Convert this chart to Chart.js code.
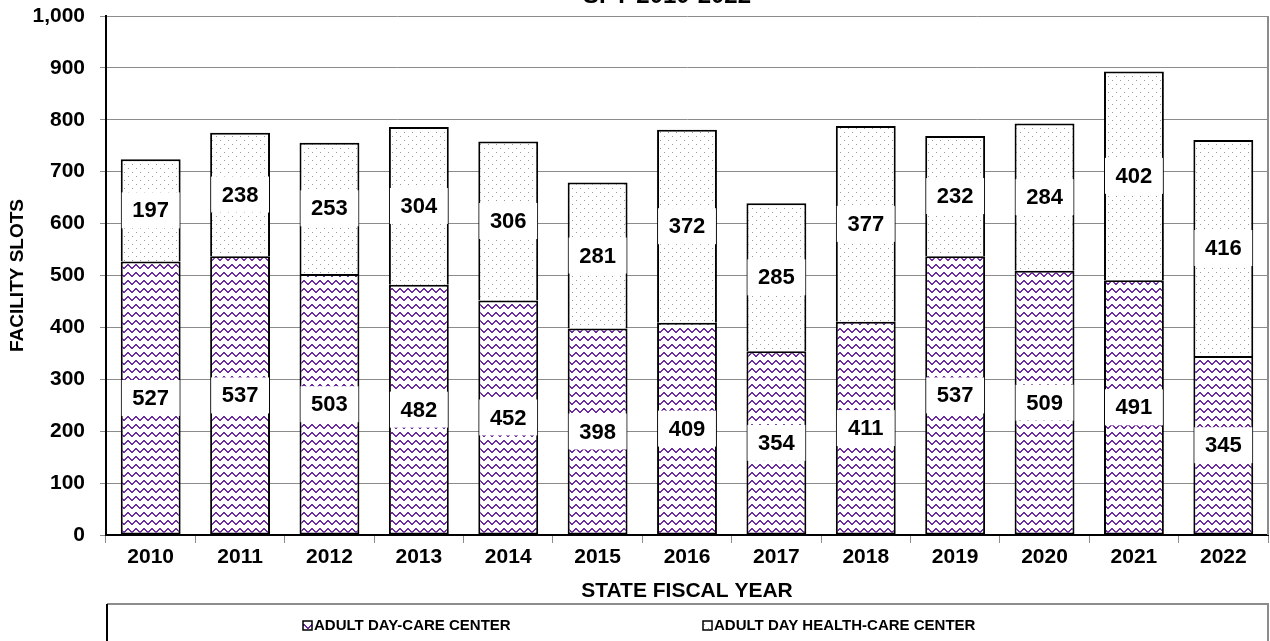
<!DOCTYPE html>
<html>
<head>
<meta charset="utf-8">
<title>Facility slots by state fiscal year</title>
<script src="https://cdn.jsdelivr.net/npm/chart.js@4.4.1/dist/chart.umd.min.js"></script>
<style>
  body { margin: 0; background: #fff; }
  #wrap { width: 1270px; height: 641px; }
</style>
</head>
<body>
<div id="wrap"><canvas id="slotsChart" width="1270" height="641"></canvas></div>
<script>
// slots per fiscal year
const years = ['2010', '2011', '2012', '2013', '2014', '2015', '2016', '2017', '2018', '2019', '2020', '2021', '2022'];
const dayCareSlots = [527, 537, 503, 482, 452, 398, 409, 354, 411, 537, 509, 491, 345];
const dayHealthSlots = [197, 238, 253, 304, 306, 281, 372, 285, 377, 232, 284, 402, 416];
const seriesNames = ['ADULT DAY-CARE CENTER', 'ADULT DAY HEALTH-CARE CENTER'];
const yMax = 1000;
const yStep = 100;
const titleText = 'SFY 2010-2022';

const FONT = "'Liberation Sans', Arial, Helvetica, sans-serif";
Chart.defaults.font.family = FONT;
Chart.defaults.color = '#000';

// 8x8 tiles, like the old excel fill patterns
function makePattern(bg, fg, pixels) {
  const c = document.createElement('canvas');
  c.width = 8; c.height = 8;
  const g = c.getContext('2d');
  g.fillStyle = bg;
  g.fillRect(0, 0, 8, 8);
  g.fillStyle = fg;
  pixels.forEach(p => g.fillRect(p[0], p[1], 1, 1));
  return g.createPattern(c, 'repeat');
}

// zigzag line two pixels thick, one wave per tile
const zigPixels = [];
for (let x = 0; x < 8; x++) {
  const y = x < 4 ? x : 7 - x;
  zigPixels.push([x, y], [x, y + 1]);
}
const zigzag = makePattern('#fff', '#6e2da0', zigPixels);
const dots = makePattern('#fff', '#9a9a9a', [[0, 0], [4, 4]]);

// value labels sit on a white band across the bar
const barLabels = {
  id: 'barLabels',
  afterDatasetsDraw(chart) {
    const ctx = chart.ctx;
    ctx.save();
    ctx.font = 'bold 22px ' + FONT;
    ctx.textAlign = 'center';
    ctx.textBaseline = 'middle';
    chart.data.datasets.forEach((ds, i) => {
      chart.getDatasetMeta(i).data.forEach((bar, j) => {
        const p = bar.getProps(['x', 'y', 'base', 'width'], true);
        const cy = (p.y + p.base) / 2;
        ctx.fillStyle = '#fff';
        ctx.fillRect(p.x - p.width / 2 + 1, cy - 18, p.width - 2, 36);
        ctx.fillStyle = '#000';
        ctx.fillText(ds.data[j], p.x, cy + 1);
      });
    });
    ctx.restore();
  }
};

// right edge of the plot frame
const plotFrame = {
  id: 'plotFrame',
  beforeDatasetsDraw(chart) {
    const a = chart.chartArea, ctx = chart.ctx;
    ctx.save();
    ctx.strokeStyle = '#8c8c8c';
    ctx.lineWidth = 2;
    ctx.beginPath();
    ctx.moveTo(a.right, a.top);
    ctx.lineTo(a.right, a.bottom);
    ctx.stroke();
    ctx.restore();
  }
};

// legend box under the axis title, plus the heading line
const legendBox = {
  id: 'legendBox',
  afterDraw(chart) {
    const ctx = chart.ctx;
    const a = chart.chartArea;
    const top = 604;
    ctx.save();
    ctx.lineWidth = 2;
    ctx.strokeStyle = '#8c8c8c';
    ctx.beginPath();
    ctx.moveTo(a.left + 1, top);
    ctx.lineTo(a.right, top);
    ctx.lineTo(a.right, chart.height);
    ctx.stroke();
    ctx.strokeStyle = '#000';
    ctx.beginPath();
    ctx.moveTo(a.left + 1, top);
    ctx.lineTo(a.left + 1, chart.height);
    ctx.stroke();

    const fills = [zigzag, dots];
    const xs = [303, 703];
    ctx.font = 'bold 15px ' + FONT;
    ctx.textBaseline = 'middle';
    ctx.textAlign = 'left';
    seriesNames.forEach((name, i) => {
      const x = xs[i], y = 626;
      ctx.fillStyle = fills[i];
      ctx.fillRect(x, y - 5, 9, 9);
      ctx.lineWidth = 1.5;
      ctx.strokeStyle = '#000';
      ctx.strokeRect(x, y - 5, 9, 9);
      ctx.fillStyle = '#000';
      ctx.fillText(name, x + 11, y);
    });

    ctx.font = 'bold 24px ' + FONT;
    ctx.textAlign = 'center';
    ctx.textBaseline = 'alphabetic';
    ctx.fillText(titleText, 667, 3);
    ctx.restore();
  }
};

const axisFont = { family: FONT, weight: 'bold', size: 21 };

new Chart(document.getElementById('slotsChart'), {
  type: 'bar',
  data: {
    labels: years,
    datasets: [
      {
        label: seriesNames[0],
        data: dayCareSlots,
        backgroundColor: zigzag,
        borderColor: '#000',
        borderWidth: 2,
        borderSkipped: false
      },
      {
        label: seriesNames[1],
        data: dayHealthSlots,
        backgroundColor: dots,
        borderColor: '#000',
        borderWidth: { top: 2, left: 2, right: 2, bottom: 0 },
        borderSkipped: false
      }
    ]
  },
  options: {
    responsive: false,
    animation: false,
    layout: { padding: { top: 16, right: 2, bottom: 36, left: 0 } },
    datasets: { bar: { barPercentage: 0.67, categoryPercentage: 1 } },
    plugins: {
      legend: { display: false },
      tooltip: { enabled: false }
    },
    scales: {
      x: {
        stacked: true,
        grid: { offset: true, drawOnChartArea: false, color: '#8c8c8c', tickLength: 8 },
        border: { color: '#000', width: 2 },
        ticks: { font: axisFont, color: '#000', padding: 2, maxRotation: 0 },
        title: {
          display: true,
          text: 'STATE FISCAL YEAR',
          font: { family: FONT, weight: 'bold', size: 21 },
          color: '#000',
          padding: { top: 0, bottom: 1 }
        },
        afterFit(scale) { scale.height = 70; }
      },
      y: {
        stacked: true,
        min: 0,
        max: yMax,
        grid: { color: '#8c8c8c', tickLength: 6 },
        border: { color: '#000', width: 2 },
        ticks: {
          stepSize: yStep,
          font: axisFont,
          color: '#000',
          padding: 15,
          callback: v => v.toLocaleString('en-US')
        },
        title: {
          display: true,
          text: 'FACILITY SLOTS',
          font: { family: FONT, weight: 'bold', size: 19 },
          color: '#000',
          padding: { top: 6, bottom: 0 }
        },
        afterFit(scale) {
          scale.width = 106;
          // top label may hang over the canvas edge a little
          scale.paddingTop = 0;
          scale.paddingBottom = 0;
        }
      }
    }
  },
  plugins: [plotFrame, barLabels, legendBox]
});
</script>
</body>
</html>
